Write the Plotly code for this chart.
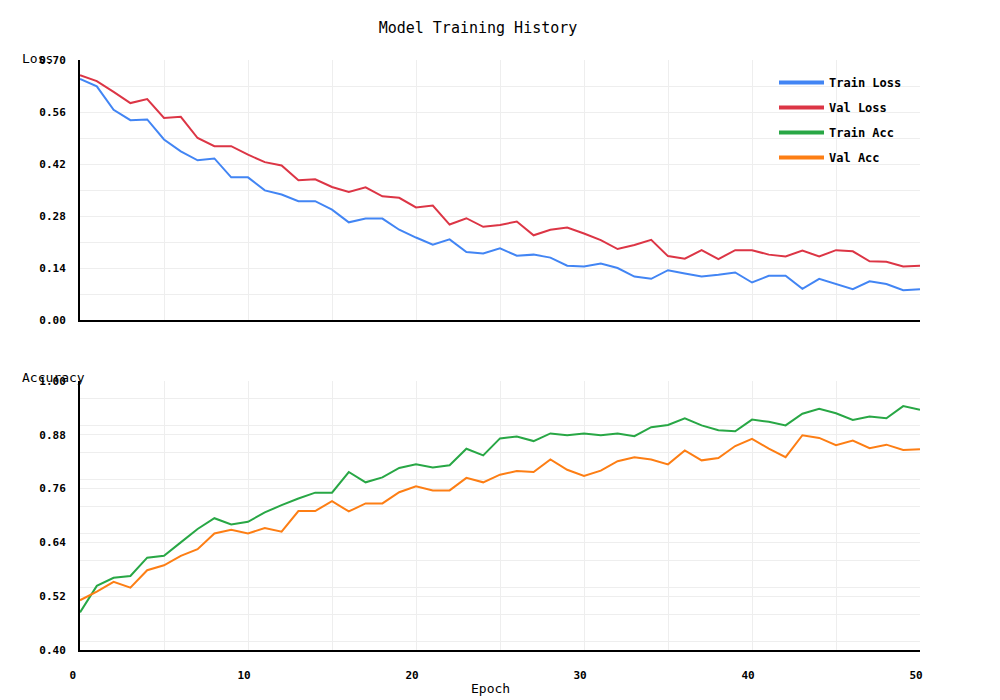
import plotly.graph_objects as go

epochs = list(range(51))

train_loss = [0.649, 0.629, 0.566, 0.538, 0.540, 0.486, 0.454, 0.430, 0.435, 0.384,
              0.384, 0.349, 0.338, 0.320, 0.320, 0.297, 0.263, 0.273, 0.273, 0.243,
              0.222, 0.203, 0.217, 0.183, 0.179, 0.193, 0.173, 0.176, 0.168, 0.146,
              0.144, 0.152, 0.140, 0.117, 0.111, 0.134, 0.125, 0.117, 0.122, 0.128,
              0.101, 0.119, 0.119, 0.084, 0.111, 0.096, 0.083, 0.104, 0.097, 0.080,
              0.083]
val_loss = [0.659, 0.643, 0.614, 0.584, 0.595, 0.544, 0.547, 0.490, 0.468, 0.468,
            0.445, 0.425, 0.416, 0.376, 0.379, 0.358, 0.345, 0.357, 0.333, 0.329,
            0.303, 0.308, 0.257, 0.274, 0.251, 0.256, 0.265, 0.228, 0.243, 0.249,
            0.233, 0.215, 0.191, 0.202, 0.216, 0.172, 0.165, 0.188, 0.164, 0.188,
            0.188, 0.176, 0.171, 0.187, 0.171, 0.188, 0.185, 0.158, 0.157, 0.144,
            0.146]
train_acc = [0.484, 0.543, 0.561, 0.565, 0.606, 0.610, 0.640, 0.670, 0.694, 0.680,
             0.686, 0.707, 0.723, 0.738, 0.751, 0.751, 0.797, 0.774, 0.785, 0.806,
             0.814, 0.807, 0.812, 0.849, 0.834, 0.872, 0.876, 0.866, 0.883, 0.879,
             0.883, 0.879, 0.883, 0.877, 0.897, 0.902, 0.917, 0.901, 0.890, 0.888,
             0.914, 0.909, 0.901, 0.927, 0.938, 0.928, 0.913, 0.921, 0.917, 0.944,
             0.936]
val_acc = [0.511, 0.530, 0.552, 0.539, 0.578, 0.589, 0.610, 0.625, 0.660, 0.668,
           0.660, 0.672, 0.664, 0.710, 0.710, 0.732, 0.709, 0.727, 0.727, 0.752,
           0.765, 0.756, 0.756, 0.784, 0.774, 0.791, 0.799, 0.797, 0.825, 0.802,
           0.788, 0.800, 0.821, 0.830, 0.825, 0.814, 0.845, 0.823, 0.828, 0.855,
           0.871, 0.849, 0.830, 0.879, 0.873, 0.857, 0.867, 0.850, 0.858, 0.846,
           0.848]

x_tick_vals = [0, 10, 20, 30, 40, 50]
x_tick_text = ["0\u00a0", "10", "20", "30", "40", "50"]

series_names = ["Train Loss", "Val Loss", "Train Acc", "Val Acc"]
series_colors = ["#4285F4", "#DC3545", "#28A745", "#FD7E14"]

MONO = "DejaVu Sans Mono"

fig = go.Figure()

data_sets = [(train_loss, "x", "y"), (val_loss, "x", "y"),
             (train_acc, "x2", "y2"), (val_acc, "x2", "y2")]
for (vals, xa, ya), name, color in zip(data_sets, series_names, series_colors):
    fig.add_trace(go.Scatter(x=epochs, y=vals, mode="lines", name=name,
                             line=dict(color=color, width=2),
                             xaxis=xa, yaxis=ya, showlegend=False))

# legend-only entries (thicker legend swatches)
for i, (name, color) in enumerate(zip(series_names, series_colors)):
    fig.add_trace(go.Scatter(x=[None], y=[None], mode="lines", name=name,
                             line=dict(color=color, width=4),
                             legendgroup=f"g{i}", showlegend=True,
                             xaxis="x", yaxis="y"))

grid = "#EEEEEE"
tickfont = dict(family=MONO, size=11, color="black", weight="bold")

common_x = dict(range=[0, 50], tickmode="array", tickvals=x_tick_vals,
                ticktext=x_tick_text, showgrid=True, gridcolor=grid,
                gridwidth=1, minor=dict(dtick=5, tick0=0, showgrid=True, gridcolor=grid),
                showline=True, linecolor="black", linewidth=2, zeroline=False,
                ticks="", tickfont=tickfont, fixedrange=True)
common_y = dict(showgrid=True, gridcolor=grid, gridwidth=1, showline=True,
                linecolor="black", linewidth=2, zeroline=False, ticks="",
                tickfont=tickfont, tickformat=".2f", ticklabelstandoff=10,
                fixedrange=True)

top_dom = [(650 - 320) / 590, 1.0]
bot_dom = [0.0, (650 - 381) / 590]

fig.update_layout(
    width=1000, height=700,
    margin=dict(l=80, r=80, t=60, b=50),
    plot_bgcolor="white", paper_bgcolor="white",
    font=dict(family=MONO, size=12, color="black"),
    title=dict(text="Model Training History", x=0.478, xref="container",
               y=1 - 28 / 700, yref="container", xanchor="center",
               yanchor="middle", font=dict(family=MONO, size=15, color="black")),
    xaxis=dict(common_x, domain=[0, 1], anchor="y", showticklabels=False,
               matches="x2"),
    xaxis2=dict(common_x, domain=[0, 1], anchor="y2", showticklabels=True,
                ticklabelstandoff=14, ticklabelshift=-4),
    yaxis=dict(common_y, domain=top_dom, anchor="x", range=[0, 0.70],
               dtick=0.14, tick0=0,
               minor=dict(dtick=0.07, showgrid=True, gridcolor=grid)),
    yaxis2=dict(common_y, domain=bot_dom, anchor="x2", range=[0.40, 1.00],
                dtick=0.12, tick0=0.40,
                minor=dict(dtick=0.06, showgrid=True, gridcolor=grid)),
    legend=dict(x=(774 - 80) / 840, y=(650 - 68) / 590, xanchor="left",
                yanchor="top", bgcolor="rgba(0,0,0,0)", borderwidth=0,
                font=dict(family=MONO, size=12, color="black", weight="bold"),
                traceorder="grouped", tracegroupgap=6, itemwidth=45),
    annotations=[
        dict(text="Loss", xref="paper", yref="paper", x=(20 - 80) / 840,
             y=(650 - 58) / 590, xanchor="left", yanchor="middle",
             showarrow=False, font=dict(family=MONO, size=13, color="black")),
        dict(text="Accuracy", xref="paper", yref="paper", x=(20 - 80) / 840,
             y=(650 - 378) / 590, xanchor="left", yanchor="middle",
             showarrow=False, font=dict(family=MONO, size=13, color="black")),
        dict(text="Epoch", xref="paper", yref="paper", x=(490 - 80) / 840,
             y=(650 - 688) / 590, xanchor="center", yanchor="middle",
             showarrow=False, font=dict(family=MONO, size=13, color="black")),
    ],
)

fig.write_html("out.html",
               config={"displayModeBar": False, "staticPlot": True},
               post_script="document.body.style.margin='0px';document.body.style.padding='0px';")
